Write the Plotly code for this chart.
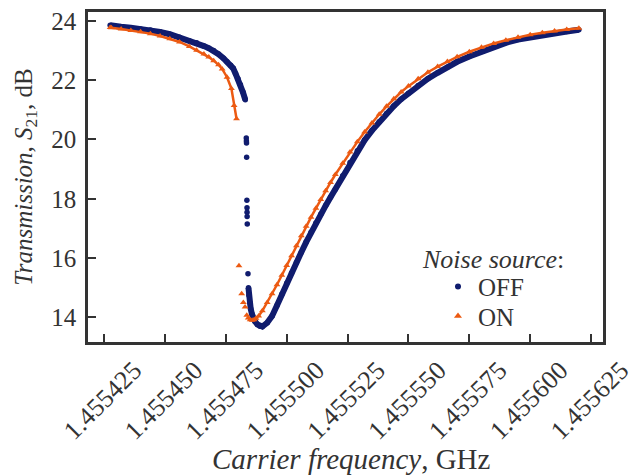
import plotly.graph_objects as go

# Frequency offsets in kHz relative to 1.4554 GHz, transmission S21 in dB
F0_GHZ = 1.4554

off_upper_khz = [27.5, 28, 32, 36, 40, 44, 48, 52, 56, 60, 63, 66, 68, 70, 72, 74, 75.5, 77, 78, 79, 80, 81, 82, 83]
off_upper_db = [23.85, 23.84, 23.80, 23.77, 23.73, 23.69, 23.63, 23.55, 23.45, 23.33, 23.26, 23.15, 23.08, 23.00, 22.88, 22.74, 22.62, 22.50, 22.40, 22.22, 22.05, 21.85, 21.60, 21.34]

off_jump_khz = [83.4, 83.45, 83.5, 83.55, 83.65, 83.7, 83.72, 83.75, 83.8, 84.1]
off_jump_db = [20.05, 19.95, 19.88, 19.40, 17.95, 17.70, 17.55, 17.40, 17.15, 15.47]

off_lower_khz = [84.3, 84.5, 84.8, 85.2, 85.7, 86.3, 87, 88, 89, 90, 92, 94, 96, 98, 100, 102, 104, 106, 108, 110,
                 112, 114, 116, 118, 120, 123, 126, 129, 132, 135, 138, 141, 144, 147, 150, 154, 158, 162, 166, 170,
                 175, 180, 185, 190, 195, 200, 205, 210, 215, 220]
off_lower_db = [15.0, 14.75, 14.5, 14.3, 14.12, 13.98, 13.86, 13.76, 13.70, 13.69, 13.82, 14.05, 14.40, 14.78, 15.15, 15.50, 15.85, 16.20, 16.54, 16.87,
                17.18, 17.48, 17.77, 18.05, 18.32, 18.78, 19.22, 19.62, 19.98, 20.30, 20.60, 20.88, 21.13, 21.36, 21.56, 21.82, 22.05, 22.25, 22.44, 22.62,
                22.80, 22.97, 23.12, 23.26, 23.37, 23.45, 23.52, 23.58, 23.64, 23.70]

on_upper_khz = [27.5, 28, 32, 36, 40, 44, 48, 52, 56, 60, 63, 66, 68, 70, 72, 73.5, 75.5, 77.3, 78.4, 79.4]
on_upper_db = [23.78, 23.77, 23.73, 23.68, 23.63, 23.57, 23.49, 23.40, 23.29, 23.14, 23.01, 22.88, 22.78, 22.66, 22.52, 22.38, 22.10, 21.72, 21.15, 20.70]

on_jump_khz = [80.4, 81.5, 82.2, 82.9, 83.6]
on_jump_db = [15.74, 14.80, 14.50, 14.35, 14.07]

on_lower_khz = [84.2, 85, 85.8, 86.6, 87.4, 88.5, 90, 92, 94, 96, 98, 100, 102, 104, 106, 108, 110, 112, 114, 116,
                118, 120, 123, 126, 129, 132, 135, 138, 141, 144, 147, 150, 154, 158, 162, 166, 170, 175, 180, 185,
                190, 195, 200, 205, 210, 215, 220]
on_lower_db = [13.98, 13.92, 13.90, 13.92, 13.97, 14.05, 14.22, 14.50, 14.80, 15.10, 15.42, 15.75, 16.08, 16.42, 16.75, 17.07, 17.38, 17.68, 17.98, 18.27,
               18.55, 18.82, 19.20, 19.58, 19.92, 20.25, 20.56, 20.85, 21.12, 21.37, 21.60, 21.80, 22.05, 22.27, 22.46, 22.63, 22.79, 22.96, 23.11, 23.24,
               23.35, 23.45, 23.53, 23.60, 23.66, 23.71, 23.75]

x_tick_vals = [1.455425, 1.455450, 1.455475, 1.455500, 1.455525, 1.455550, 1.455575, 1.455600, 1.455625]
x_tick_text = ["1.455425", "1.455450", "1.455475", "1.455500", "1.455525", "1.455550", "1.455575", "1.455600", "1.455625"]
y_tick_vals = [14, 16, 18, 20, 22, 24]

series_names = ["OFF", "ON"]

OFF_COLOR = "#101c6e"
ON_COLOR = "#ec5a12"
TEXT_COLOR = "#333333"
FONT = "Liberation Serif, Times New Roman, Times, serif"

# the page body adds an 8px margin; the figure is sized so it still fits the window
W, H = 631, 467
ML, MR, MT, MB = 80, 36, 0, 133
PW, PH = W - ML - MR, H - MT - MB


def ghz(khz_list):
    return [F0_GHZ + k * 1e-6 for k in khz_list]


def px_to_paper_x(px):
    return (px - 8 - ML) / PW


def px_to_paper_y(py):
    return (H - MB + 8 - py) / PH


fig = go.Figure()

# OFF (noise source off): navy dots
for xs, ys, mode in [(off_upper_khz, off_upper_db, "lines+markers"),
                     (off_jump_khz, off_jump_db, "markers"),
                     (off_lower_khz, off_lower_db, "lines+markers")]:
    fig.add_trace(go.Scatter(
        x=ghz(xs), y=ys, mode=mode, legendgroup="off", showlegend=False,
        line=dict(color=OFF_COLOR, width=6),
        marker=dict(symbol="circle", size=5.5, color=OFF_COLOR),
        hoverinfo="skip"))

# ON (noise source on): orange triangles
for xs, ys, mode in [(on_upper_khz, on_upper_db, "lines+markers"),
                     (on_jump_khz, on_jump_db, "markers"),
                     (on_lower_khz, on_lower_db, "lines+markers")]:
    fig.add_trace(go.Scatter(
        x=ghz(xs), y=ys, mode=mode, legendgroup="on", showlegend=False,
        line=dict(color=ON_COLOR, width=2.5),
        marker=dict(symbol="triangle-up", size=6, color=ON_COLOR),
        hoverinfo="skip"))

# legend entries (one legend box per entry so rows can be spaced like the reference)
fig.add_trace(go.Scatter(x=[None], y=[None], mode="markers", name=series_names[0], legend="legend",
                         marker=dict(symbol="circle", size=6, color=OFF_COLOR)))
fig.add_trace(go.Scatter(x=[None], y=[None], mode="markers", name=series_names[1], legend="legend2",
                         marker=dict(symbol="triangle-up", size=7, color=ON_COLOR)))

axis_common = dict(
    showgrid=False, zeroline=False,
    showline=True, linecolor=TEXT_COLOR, linewidth=2.5, mirror=True,
    ticks="inside", ticklen=8, tickwidth=2, tickcolor=TEXT_COLOR,
    ticklabeloverflow="allow",
)

fig.update_xaxes(
    range=[1.4554184, 1.4556299],
    tickvals=x_tick_vals, ticktext=x_tick_text, tickangle=-45,
    tickfont=dict(family=FONT, size=26, color=TEXT_COLOR),
    ticklabelshift=30, ticklabelstandoff=0,
    **axis_common)
fig.update_yaxes(
    range=[13.17, 24.3],
    tickvals=y_tick_vals,
    tickfont=dict(family=FONT, size=25, color=TEXT_COLOR),
    ticklabelstandoff=4,
    title=dict(text="<i>Transmission</i>, <i>S</i><sub>21</sub>, dB", font=dict(family=FONT, size=25, color=TEXT_COLOR), standoff=12),
    **axis_common)

# x-axis title
fig.add_annotation(text="<i>Carrier frequency</i>, GHz", xref="paper", yref="paper",
                   x=px_to_paper_x(351), y=px_to_paper_y(460), xanchor="center", yanchor="middle",
                   showarrow=False, font=dict(family=FONT, size=29, color=TEXT_COLOR))

# legend title
fig.add_annotation(text="<i>Noise source</i>:", xref="paper", yref="paper",
                   x=px_to_paper_x(493), y=px_to_paper_y(258), xanchor="center", yanchor="middle",
                   showarrow=False, font=dict(family=FONT, size=26, color=TEXT_COLOR))

legend_common = dict(xanchor="left", yanchor="middle", bgcolor="rgba(0,0,0,0)",
                     font=dict(family=FONT, size=25, color=TEXT_COLOR), itemwidth=30,
                     borderwidth=0)

fig.update_layout(
    width=W, height=H,
    margin=dict(l=ML, r=MR, t=MT, b=MB),
    paper_bgcolor="white", plot_bgcolor="white",
    showlegend=True,
    legend=dict(x=px_to_paper_x(438), y=px_to_paper_y(286), **legend_common),
    legend2=dict(x=px_to_paper_x(438), y=px_to_paper_y(316), **legend_common),
)

fig.write_html("out.html")
